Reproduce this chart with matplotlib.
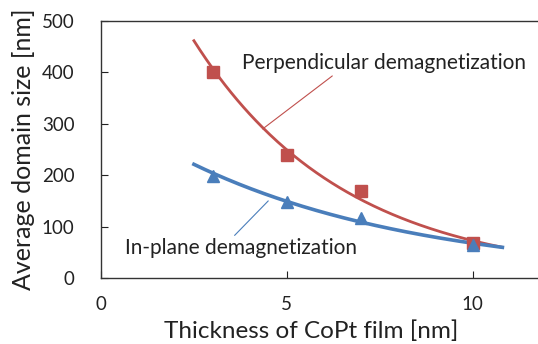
import numpy as np
import matplotlib.pyplot as plt

plt.rcParams['font.family'] = ['Lato', 'DejaVu Sans']

# measured thickness [nm]
thickness = [3, 5, 7, 10]
perp_size = [400, 240, 170, 69]
inplane_size = [199, 148, 117, 65]

# trendline range (as drawn in the original, extended beyond the data)
trend_start = 2.5
trend_end = 10.8

red = '#C0504D'
blue = '#4A7EBB'
txt = '#222222'

fig = plt.figure(figsize=(5.38, 3.44), dpi=100)
ax = fig.add_axes([101/538, (344-278)/344, 446/538, 257/344])


def exp_trend(x, y):
    # exponential trendline fitted to the points, like Excel does
    k, lna = np.polyfit(x, np.log(y), 1)
    xs = np.linspace(trend_start, trend_end, 200)
    return xs, np.exp(lna + k * xs)


xs, ys = exp_trend(thickness, perp_size)
ax.plot(xs, ys, color=red, lw=2.0, zorder=2)
ax.plot(thickness, perp_size, 's', color=red, ms=9, zorder=3)

xs, ys = exp_trend(thickness, inplane_size)
ax.plot(xs, ys, color=blue, lw=2.6, zorder=2)
ax.plot(thickness, inplane_size, '^', color=blue, ms=8, zorder=3)

ax.set_xlim(0, 12)
ax.set_ylim(0, 500)
ax.set_xticks([0, 5, 10])
ax.set_yticks([0, 100, 200, 300, 400, 500])
ax.tick_params(axis='x', direction='in', length=5, pad=13, labelsize=13.5, colors=txt)
ax.tick_params(axis='y', direction='in', length=5, pad=19, labelsize=13.5, colors=txt)
for s in ax.spines.values():
    s.set_color('#333333')
    s.set_linewidth(1.0)

ax.set_xlabel('Thickness of CoPt film [nm]', fontsize=17.5, color=txt)
ax.xaxis.set_label_coords(0.471, -0.165)
ax.set_ylabel('Average domain size [nm]', fontsize=18, color=txt, labelpad=5)

# labels with leader lines
ax.annotate('Perpendicular demagnetization', xy=(4.35, 290), xytext=(3.8, 418),
            fontsize=15, color=txt, va='center', ha='left',
            arrowprops=dict(arrowstyle='-', color=red, lw=0.8, shrinkA=0, shrinkB=0,
                            relpos=(0.33, 0.0)))
ax.annotate('In-plane demagnetization', xy=(4.5, 150), xytext=(0.65, 58),
            fontsize=15, color=txt, va='center', ha='left',
            arrowprops=dict(arrowstyle='-', color=blue, lw=0.8, shrinkA=0, shrinkB=0,
                            relpos=(0.46, 1.0)))

fig.savefig('out.png', dpi=100)
